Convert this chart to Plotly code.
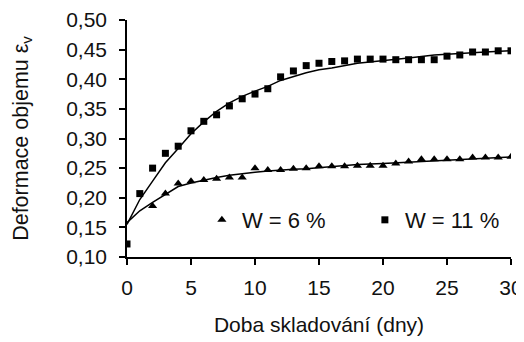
import plotly.graph_objects as go

# Measured points
days_11 = list(range(0, 31))
vals_11 = [0.122, 0.207, 0.250, 0.275, 0.287, 0.313, 0.329, 0.340, 0.355, 0.367,
           0.375, 0.384, 0.404, 0.414, 0.423, 0.427, 0.430, 0.431, 0.434, 0.434,
           0.434, 0.433, 0.433, 0.433, 0.433, 0.439, 0.441, 0.446, 0.446, 0.448, 0.448]

days_6 = list(range(2, 31))
vals_6 = [0.186, 0.207, 0.224, 0.228, 0.230, 0.232, 0.234, 0.234, 0.250,
          0.247, 0.247, 0.249, 0.250, 0.253, 0.253, 0.253, 0.254, 0.254, 0.254,
          0.258, 0.261, 0.265, 0.265, 0.265, 0.265, 0.268, 0.268, 0.268, 0.269]

# Fitted trend lines
fit_days = [0, 1, 2, 3, 4, 5, 6, 7, 8, 9, 10, 11, 12, 13, 14, 15, 16, 18, 20, 22, 24, 26, 28, 30]
fit_11 = [0.155, 0.197, 0.228, 0.259, 0.283, 0.308, 0.328, 0.346, 0.360, 0.371, 0.380, 0.388,
          0.398, 0.405, 0.411, 0.416, 0.419, 0.427, 0.431, 0.436, 0.441, 0.444, 0.446, 0.448]
fit_6 = [0.158, 0.178, 0.192, 0.206, 0.219, 0.225, 0.230, 0.234, 0.238, 0.241, 0.243, 0.245,
         0.247, 0.248, 0.249, 0.251, 0.253, 0.256, 0.258, 0.260, 0.262, 0.265, 0.266, 0.269]

y_ticks = [0.10, 0.15, 0.20, 0.25, 0.30, 0.35, 0.40, 0.45, 0.50]
x_ticks = [0, 5, 10, 15, 20, 25, 30]

FONT = "Liberation Sans, Arial, sans-serif"
TITLE_FONT = dict(family="Liberation Sans Narrow, Arial Narrow, Liberation Sans, sans-serif",
                  size=21, color="#111")
YTITLE_FONT = dict(family="Liberation Sans Narrow, Arial Narrow, Liberation Sans, sans-serif",
                   size=21.5, color="#111")

fig = go.Figure()
fig.add_trace(go.Scatter(x=fit_days, y=fit_11, mode="lines",
                         line=dict(color="black", width=1.5), showlegend=False, hoverinfo="skip"))
fig.add_trace(go.Scatter(x=fit_days, y=fit_6, mode="lines",
                         line=dict(color="black", width=1.5), showlegend=False, hoverinfo="skip"))
fig.add_trace(go.Scatter(x=days_6, y=vals_6, mode="markers", name="W = 6 %",
                         marker=dict(symbol="triangle-up", size=8, color="black")))
fig.add_trace(go.Scatter(x=days_11, y=vals_11, mode="markers", name="W = 11 %",
                         marker=dict(symbol="square", size=7, color="black")))

# The page body has an 8px default margin, so the figure is sized to fit the window.
fig.update_layout(
    width=516, height=334,
    margin=dict(l=119, r=13, t=12, b=85, autoexpand=False),
    paper_bgcolor="white", plot_bgcolor="white",
    separators=", ",
    font=dict(family=FONT, size=21, color="#111"),
    showlegend=True,
    legend=dict(orientation="h", x=0.195, y=0.156, xanchor="left", yanchor="middle",
                bgcolor="rgba(0,0,0,0)", font=dict(size=22), itemsizing="trace",
                entrywidth=118, entrywidthmode="pixels", tracegroupgap=0),
    xaxis=dict(range=[0, 30], tickvals=x_ticks, showgrid=False, zeroline=False,
               showline=True, linecolor="black", linewidth=1.5, automargin=False,
               ticks="outside", ticklen=6, tickcolor="black", tickwidth=1.5,
               ticklabelstandoff=5,
               title=dict(text="Doba skladování (dny)", standoff=19, font=TITLE_FONT)),
    yaxis=dict(range=[0.10, 0.50], tickvals=y_ticks, tickformat=".2f", showgrid=False,
               zeroline=False, showline=True, linecolor="black", linewidth=1.5,
               automargin=False,
               ticks="outside", ticklen=6, tickcolor="black", tickwidth=1.5,
               ticklabelstandoff=8,
               title=dict(text="Deformace objemu ε<sub>v</sub>", standoff=32, font=YTITLE_FONT)),
)

fig.write_html("out.html")
